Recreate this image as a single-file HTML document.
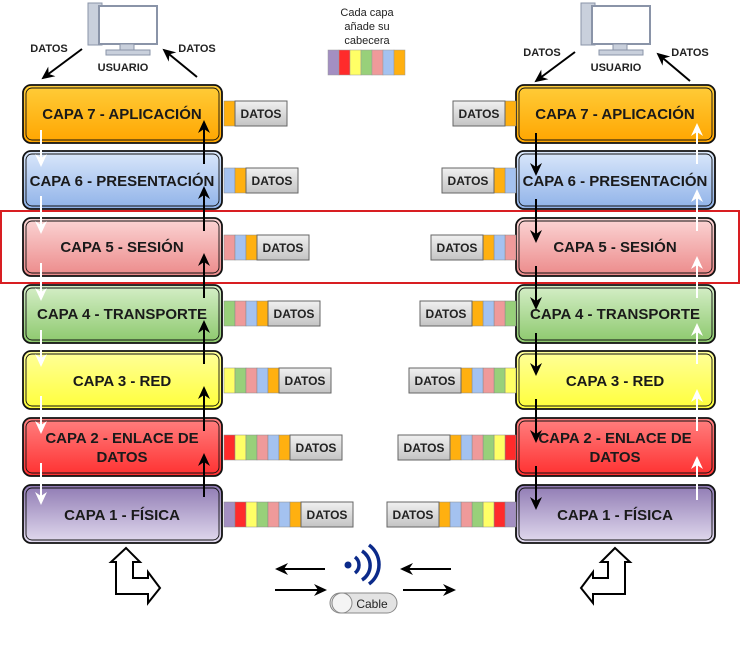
<!DOCTYPE html>
<html><head><meta charset="utf-8"><style>
body{margin:0;background:#fff;width:741px;height:662px;overflow:hidden}
svg{display:block;font-family:"Liberation Sans",sans-serif}
.bt{font-weight:bold;font-size:15px;fill:#1a1a1a;text-anchor:middle}
.dt{font-weight:bold;font-size:12px;fill:#222;text-anchor:middle}
.sm{font-size:11px;fill:#222;text-anchor:middle}
</style></head><body>
<svg width="741" height="662" viewBox="0 0 741 662">
<defs>
<linearGradient id="g7" x1="0" y1="0" x2="0" y2="1"><stop offset="0" stop-color="#ffcd3a"/><stop offset="1" stop-color="#ffa500"/></linearGradient>
<linearGradient id="g6" x1="0" y1="0" x2="0" y2="1"><stop offset="0" stop-color="#dbe8fb"/><stop offset="1" stop-color="#8fb2e8"/></linearGradient>
<linearGradient id="g5" x1="0" y1="0" x2="0" y2="1"><stop offset="0" stop-color="#fbd5d5"/><stop offset="1" stop-color="#ec8a8a"/></linearGradient>
<linearGradient id="g4" x1="0" y1="0" x2="0" y2="1"><stop offset="0" stop-color="#d6efc9"/><stop offset="1" stop-color="#8cc86c"/></linearGradient>
<linearGradient id="g3" x1="0" y1="0" x2="0" y2="1"><stop offset="0" stop-color="#ffff9a"/><stop offset="1" stop-color="#ffff3a"/></linearGradient>
<linearGradient id="g2" x1="0" y1="0" x2="0" y2="1"><stop offset="0" stop-color="#ff8080"/><stop offset="1" stop-color="#ff3030"/></linearGradient>
<linearGradient id="g1" x1="0" y1="0" x2="0" y2="1"><stop offset="0" stop-color="#8f7ab3"/><stop offset="1" stop-color="#e2dbef"/></linearGradient>
<linearGradient id="gd" x1="0" y1="0" x2="0" y2="1"><stop offset="0" stop-color="#f0f0f0"/><stop offset="1" stop-color="#c4c4c4"/></linearGradient>
<marker id="ab" markerWidth="14" markerHeight="14" refX="11" refY="7" orient="auto" markerUnits="userSpaceOnUse"><path d="M0,1 L13,7 L0,13 L4,7z" fill="#000"/></marker>
<marker id="aw" markerWidth="14" markerHeight="14" refX="11" refY="7" orient="auto" markerUnits="userSpaceOnUse"><path d="M0,1 L13,7 L0,13 L4,7z" fill="#fff"/></marker>
<g id="pc">
<rect x="0" y="0" width="14" height="42" fill="#c9d0dc" stroke="#8a94a8"/>
<rect x="11" y="3" width="58" height="38" fill="#fff" stroke="#8a94a8" stroke-width="2"/>
<rect x="32" y="41" width="14" height="6" fill="#c9d0dc" stroke="#8a94a8"/>
<rect x="18" y="47" width="44" height="5" fill="#c9d0dc" stroke="#8a94a8"/>
</g>
</defs>

<rect x="1" y="211" width="738" height="72" fill="none" stroke="#d81e22" stroke-width="2"/>

<use href="#pc" x="88" y="3"/>
<use href="#pc" x="581" y="3"/>
<text x="123" y="71" class="dt" style="font-size:11px">USUARIO</text>
<text x="616" y="71" class="dt" style="font-size:11px">USUARIO</text>
<text x="49" y="52" class="dt" style="font-size:11px">DATOS</text>
<text x="197" y="52" class="dt" style="font-size:11px">DATOS</text>
<text x="542" y="56" class="dt" style="font-size:11px">DATOS</text>
<text x="690" y="56" class="dt" style="font-size:11px">DATOS</text>
<line x1="82" y1="49" x2="43" y2="78" stroke="#000" stroke-width="2" marker-end="url(#ab)"/>
<line x1="197" y1="77" x2="164" y2="50" stroke="#000" stroke-width="2" marker-end="url(#ab)"/>
<line x1="575" y1="52" x2="536" y2="81" stroke="#000" stroke-width="2" marker-end="url(#ab)"/>
<line x1="690" y1="81" x2="658" y2="54" stroke="#000" stroke-width="2" marker-end="url(#ab)"/>

<text x="367" y="16" class="sm">Cada capa</text>
<text x="367" y="30" class="sm">añade su</text>
<text x="367" y="44" class="sm">cabecera</text>
<g stroke="#999" stroke-width="0.5">
<rect x="328" y="50" width="11" height="25" fill="#a38fc2"/><rect x="339" y="50" width="11" height="25" fill="#ff2b2b"/><rect x="350" y="50" width="11" height="25" fill="#ffff66"/><rect x="361" y="50" width="11" height="25" fill="#98d07a"/><rect x="372" y="50" width="11" height="25" fill="#ef9a9a"/><rect x="383" y="50" width="11" height="25" fill="#a4c2f0"/><rect x="394" y="50" width="11" height="25" fill="#ffb010"/>
</g>

<g stroke="#111" stroke-width="1.8">
<rect x="23" y="85" width="199" height="58" rx="8" fill="url(#g7)"/>
<rect x="23" y="151" width="199" height="58" rx="8" fill="url(#g6)"/>
<rect x="23" y="218" width="199" height="58" rx="8" fill="url(#g5)"/>
<rect x="23" y="285" width="199" height="58" rx="8" fill="url(#g4)"/>
<rect x="23" y="351" width="199" height="58" rx="8" fill="url(#g3)"/>
<rect x="23" y="418" width="199" height="58" rx="8" fill="url(#g2)"/>
<rect x="23" y="485" width="199" height="58" rx="8" fill="url(#g1)"/>
<rect x="516" y="85" width="199" height="58" rx="8" fill="url(#g7)"/>
<rect x="516" y="151" width="199" height="58" rx="8" fill="url(#g6)"/>
<rect x="516" y="218" width="199" height="58" rx="8" fill="url(#g5)"/>
<rect x="516" y="285" width="199" height="58" rx="8" fill="url(#g4)"/>
<rect x="516" y="351" width="199" height="58" rx="8" fill="url(#g3)"/>
<rect x="516" y="418" width="199" height="58" rx="8" fill="url(#g2)"/>
<rect x="516" y="485" width="199" height="58" rx="8" fill="url(#g1)"/>
</g>
<g fill="none" stroke="#111" stroke-width="0.9">
<rect x="26" y="88" width="193" height="52" rx="6"/><rect x="26" y="154" width="193" height="52" rx="6"/><rect x="26" y="221" width="193" height="52" rx="6"/><rect x="26" y="288" width="193" height="52" rx="6"/><rect x="26" y="354" width="193" height="52" rx="6"/><rect x="26" y="421" width="193" height="52" rx="6"/><rect x="26" y="488" width="193" height="52" rx="6"/>
<rect x="519" y="88" width="193" height="52" rx="6"/><rect x="519" y="154" width="193" height="52" rx="6"/><rect x="519" y="221" width="193" height="52" rx="6"/><rect x="519" y="288" width="193" height="52" rx="6"/><rect x="519" y="354" width="193" height="52" rx="6"/><rect x="519" y="421" width="193" height="52" rx="6"/><rect x="519" y="488" width="193" height="52" rx="6"/>
</g>
<text x="122" y="119" class="bt">CAPA 7 - APLICACIÓN</text>
<text x="122" y="186" class="bt">CAPA 6 - PRESENTACIÓN</text>
<text x="122" y="252" class="bt">CAPA 5 - SESIÓN</text>
<text x="122" y="319" class="bt">CAPA 4 - TRANSPORTE</text>
<text x="122" y="386" class="bt">CAPA 3 - RED</text>
<text x="122" y="443" class="bt">CAPA 2 - ENLACE DE</text>
<text x="122" y="462" class="bt">DATOS</text>
<text x="122" y="520" class="bt">CAPA 1 - FÍSICA</text>
<text x="615" y="119" class="bt">CAPA 7 - APLICACIÓN</text>
<text x="615" y="186" class="bt">CAPA 6 - PRESENTACIÓN</text>
<text x="615" y="252" class="bt">CAPA 5 - SESIÓN</text>
<text x="615" y="319" class="bt">CAPA 4 - TRANSPORTE</text>
<text x="615" y="386" class="bt">CAPA 3 - RED</text>
<text x="615" y="443" class="bt">CAPA 2 - ENLACE DE</text>
<text x="615" y="462" class="bt">DATOS</text>
<text x="615" y="520" class="bt">CAPA 1 - FÍSICA</text>

<g stroke="#888" stroke-width="0.5">
<rect x="224" y="101" width="11" height="25" fill="#ffb010"/>
<rect x="224" y="168" width="11" height="25" fill="#a4c2f0"/><rect x="235" y="168" width="11" height="25" fill="#ffb010"/>
<rect x="224" y="235" width="11" height="25" fill="#ef9a9a"/><rect x="235" y="235" width="11" height="25" fill="#a4c2f0"/><rect x="246" y="235" width="11" height="25" fill="#ffb010"/>
<rect x="224" y="301" width="11" height="25" fill="#98d07a"/><rect x="235" y="301" width="11" height="25" fill="#ef9a9a"/><rect x="246" y="301" width="11" height="25" fill="#a4c2f0"/><rect x="257" y="301" width="11" height="25" fill="#ffb010"/>
<rect x="224" y="368" width="11" height="25" fill="#ffff66"/><rect x="235" y="368" width="11" height="25" fill="#98d07a"/><rect x="246" y="368" width="11" height="25" fill="#ef9a9a"/><rect x="257" y="368" width="11" height="25" fill="#a4c2f0"/><rect x="268" y="368" width="11" height="25" fill="#ffb010"/>
<rect x="224" y="435" width="11" height="25" fill="#ff2b2b"/><rect x="235" y="435" width="11" height="25" fill="#ffff66"/><rect x="246" y="435" width="11" height="25" fill="#98d07a"/><rect x="257" y="435" width="11" height="25" fill="#ef9a9a"/><rect x="268" y="435" width="11" height="25" fill="#a4c2f0"/><rect x="279" y="435" width="11" height="25" fill="#ffb010"/>
<rect x="224" y="502" width="11" height="25" fill="#a38fc2"/><rect x="235" y="502" width="11" height="25" fill="#ff2b2b"/><rect x="246" y="502" width="11" height="25" fill="#ffff66"/><rect x="257" y="502" width="11" height="25" fill="#98d07a"/><rect x="268" y="502" width="11" height="25" fill="#ef9a9a"/><rect x="279" y="502" width="11" height="25" fill="#a4c2f0"/><rect x="290" y="502" width="11" height="25" fill="#ffb010"/>
</g>
<g stroke="#666" stroke-width="1" fill="url(#gd)">
<rect x="235" y="101" width="52" height="25"/><rect x="246" y="168" width="52" height="25"/><rect x="257" y="235" width="52" height="25"/><rect x="268" y="301" width="52" height="25"/><rect x="279" y="368" width="52" height="25"/><rect x="290" y="435" width="52" height="25"/><rect x="301" y="502" width="52" height="25"/>
</g>
<text x="261" y="118" class="dt">DATOS</text><text x="272" y="185" class="dt">DATOS</text><text x="283" y="252" class="dt">DATOS</text><text x="294" y="318" class="dt">DATOS</text><text x="305" y="385" class="dt">DATOS</text><text x="316" y="452" class="dt">DATOS</text><text x="327" y="519" class="dt">DATOS</text>

<g stroke="#888" stroke-width="0.5">
<rect x="505" y="101" width="11" height="25" fill="#ffb010"/>
<rect x="505" y="168" width="11" height="25" fill="#a4c2f0"/><rect x="494" y="168" width="11" height="25" fill="#ffb010"/>
<rect x="505" y="235" width="11" height="25" fill="#ef9a9a"/><rect x="494" y="235" width="11" height="25" fill="#a4c2f0"/><rect x="483" y="235" width="11" height="25" fill="#ffb010"/>
<rect x="505" y="301" width="11" height="25" fill="#98d07a"/><rect x="494" y="301" width="11" height="25" fill="#ef9a9a"/><rect x="483" y="301" width="11" height="25" fill="#a4c2f0"/><rect x="472" y="301" width="11" height="25" fill="#ffb010"/>
<rect x="505" y="368" width="11" height="25" fill="#ffff66"/><rect x="494" y="368" width="11" height="25" fill="#98d07a"/><rect x="483" y="368" width="11" height="25" fill="#ef9a9a"/><rect x="472" y="368" width="11" height="25" fill="#a4c2f0"/><rect x="461" y="368" width="11" height="25" fill="#ffb010"/>
<rect x="505" y="435" width="11" height="25" fill="#ff2b2b"/><rect x="494" y="435" width="11" height="25" fill="#ffff66"/><rect x="483" y="435" width="11" height="25" fill="#98d07a"/><rect x="472" y="435" width="11" height="25" fill="#ef9a9a"/><rect x="461" y="435" width="11" height="25" fill="#a4c2f0"/><rect x="450" y="435" width="11" height="25" fill="#ffb010"/>
<rect x="505" y="502" width="11" height="25" fill="#a38fc2"/><rect x="494" y="502" width="11" height="25" fill="#ff2b2b"/><rect x="483" y="502" width="11" height="25" fill="#ffff66"/><rect x="472" y="502" width="11" height="25" fill="#98d07a"/><rect x="461" y="502" width="11" height="25" fill="#ef9a9a"/><rect x="450" y="502" width="11" height="25" fill="#a4c2f0"/><rect x="439" y="502" width="11" height="25" fill="#ffb010"/>
</g>
<g stroke="#666" stroke-width="1" fill="url(#gd)">
<rect x="453" y="101" width="52" height="25"/><rect x="442" y="168" width="52" height="25"/><rect x="431" y="235" width="52" height="25"/><rect x="420" y="301" width="52" height="25"/><rect x="409" y="368" width="52" height="25"/><rect x="398" y="435" width="52" height="25"/><rect x="387" y="502" width="52" height="25"/>
</g>
<text x="479" y="118" class="dt">DATOS</text><text x="468" y="185" class="dt">DATOS</text><text x="457" y="252" class="dt">DATOS</text><text x="446" y="318" class="dt">DATOS</text><text x="435" y="385" class="dt">DATOS</text><text x="424" y="452" class="dt">DATOS</text><text x="413" y="519" class="dt">DATOS</text>

<g stroke-width="2">
<line x1="41" y1="130" x2="41" y2="165" stroke="#fff" marker-end="url(#aw)"/>
<line x1="41" y1="196" x2="41" y2="232" stroke="#fff" marker-end="url(#aw)"/>
<line x1="41" y1="263" x2="41" y2="299" stroke="#fff" marker-end="url(#aw)"/>
<line x1="41" y1="330" x2="41" y2="365" stroke="#fff" marker-end="url(#aw)"/>
<line x1="41" y1="396" x2="41" y2="432" stroke="#fff" marker-end="url(#aw)"/>
<line x1="41" y1="463" x2="41" y2="503" stroke="#fff" marker-end="url(#aw)"/>
<line x1="204" y1="164" x2="204" y2="122" stroke="#000" marker-end="url(#ab)"/>
<line x1="204" y1="231" x2="204" y2="188" stroke="#000" marker-end="url(#ab)"/>
<line x1="204" y1="298" x2="204" y2="255" stroke="#000" marker-end="url(#ab)"/>
<line x1="204" y1="364" x2="204" y2="322" stroke="#000" marker-end="url(#ab)"/>
<line x1="204" y1="431" x2="204" y2="388" stroke="#000" marker-end="url(#ab)"/>
<line x1="204" y1="497" x2="204" y2="455" stroke="#000" marker-end="url(#ab)"/>
<line x1="536" y1="133" x2="536" y2="174" stroke="#000" marker-end="url(#ab)"/>
<line x1="536" y1="199" x2="536" y2="241" stroke="#000" marker-end="url(#ab)"/>
<line x1="536" y1="266" x2="536" y2="308" stroke="#000" marker-end="url(#ab)"/>
<line x1="536" y1="333" x2="536" y2="374" stroke="#000" marker-end="url(#ab)"/>
<line x1="536" y1="399" x2="536" y2="441" stroke="#000" marker-end="url(#ab)"/>
<line x1="536" y1="466" x2="536" y2="508" stroke="#000" marker-end="url(#ab)"/>
<line x1="697" y1="164" x2="697" y2="125" stroke="#fff" marker-end="url(#aw)"/>
<line x1="697" y1="231" x2="697" y2="191" stroke="#fff" marker-end="url(#aw)"/>
<line x1="697" y1="298" x2="697" y2="258" stroke="#fff" marker-end="url(#aw)"/>
<line x1="697" y1="364" x2="697" y2="325" stroke="#fff" marker-end="url(#aw)"/>
<line x1="697" y1="431" x2="697" y2="391" stroke="#fff" marker-end="url(#aw)"/>
<line x1="697" y1="500" x2="697" y2="458" stroke="#fff" marker-end="url(#aw)"/>
</g>

<path d="M126,548 L140,562 L133,562 L133,578 L148,578 L148,572 L160,588 L148,603 L148,594 L116,594 L116,562 L111,562 Z" fill="#fff" stroke="#000" stroke-width="2"/>
<path d="M615,548 L601,562 L608,562 L608,578 L593,578 L593,572 L581,588 L593,603 L593,594 L625,594 L625,562 L630,562 Z" fill="#fff" stroke="#000" stroke-width="2"/>

<g stroke="#000" stroke-width="2">
<line x1="325" y1="569" x2="277" y2="569" marker-end="url(#ab)"/>
<line x1="275" y1="590" x2="325" y2="590" marker-end="url(#ab)"/>
<line x1="451" y1="569" x2="402" y2="569" marker-end="url(#ab)"/>
<line x1="403" y1="590" x2="454" y2="590" marker-end="url(#ab)"/>
</g>
<circle cx="348" cy="565" r="3.5" fill="#0b2a8a"/>
<g fill="none" stroke="#0b2a8a" stroke-width="3.5">
<path d="M355,557 A10,10 0 0 1 355,573"/>
<path d="M362,551 A17,17 0 0 1 362,580"/>
<path d="M369,545 A24,24 0 0 1 369,584"/>
</g>
<rect x="330" y="593" width="67" height="20" rx="10" fill="#e3e3e3" stroke="#888"/>
<circle cx="342" cy="603" r="10" fill="#f4f4f4" stroke="#888"/>
<text x="372" y="608" class="sm" style="font-size:12px">Cable</text>
</svg>
</body></html>
